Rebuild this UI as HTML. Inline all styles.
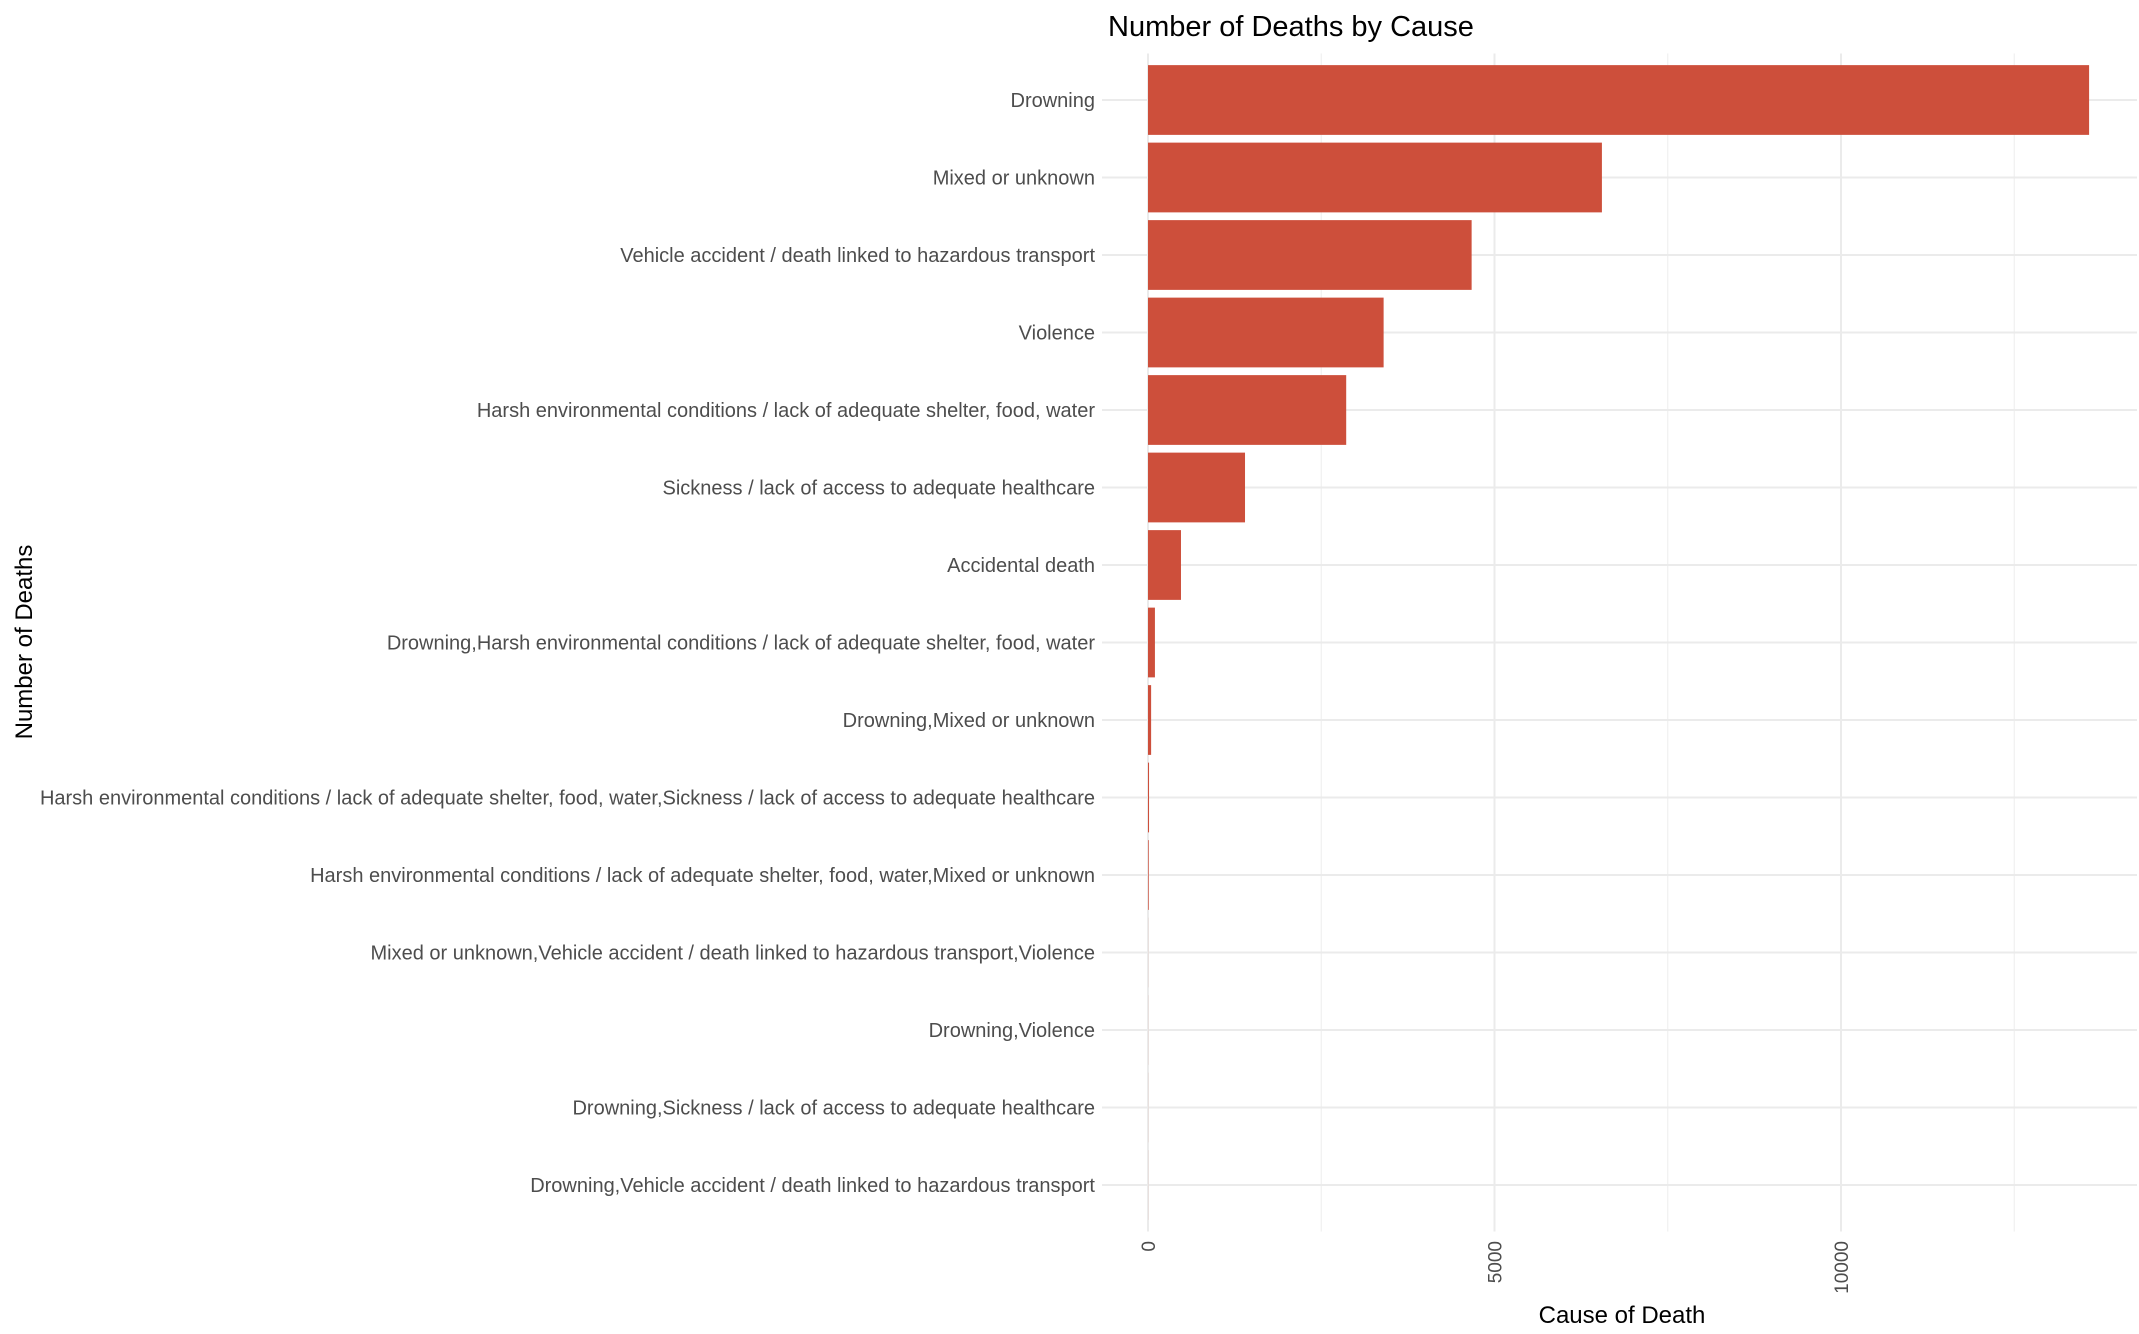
<!DOCTYPE html>
<html><head><meta charset="utf-8"><style>
html,body{margin:0;padding:0;background:#fff;}
svg{display:block;font-family:"Liberation Sans",Arial,sans-serif;}
</style></head><body>
<svg id="chart" width="2139" height="1334" viewBox="0 0 2139 1334">
<rect width="2139" height="1334" fill="#fff"/>
<g id="grid"></g>
<g id="bars"></g>
<g id="ylabels"></g>
<g id="xlabels"></g>
<text x="1108" y="36" font-size="29" fill="#000">Number of Deaths by Cause</text>
<text x="1622" y="1323" font-size="24" fill="#000" text-anchor="middle">Cause of Death</text>
<text transform="translate(32,642) rotate(-90)" font-size="24" fill="#000" text-anchor="middle">Number of Deaths</text>
</svg>
<script>
const categories = [
"Drowning",
"Mixed or unknown",
"Vehicle accident / death linked to hazardous transport",
"Violence",
"Harsh environmental conditions / lack of adequate shelter, food, water",
"Sickness / lack of access to adequate healthcare",
"Accidental death",
"Drowning,Harsh environmental conditions / lack of adequate shelter, food, water",
"Drowning,Mixed or unknown",
"Harsh environmental conditions / lack of adequate shelter, food, water,Sickness / lack of access to adequate healthcare",
"Harsh environmental conditions / lack of adequate shelter, food, water,Mixed or unknown",
"Mixed or unknown,Vehicle accident / death linked to hazardous transport,Violence",
"Drowning,Violence",
"Drowning,Sickness / lack of access to adequate healthcare",
"Drowning,Vehicle accident / death linked to hazardous transport"
];
const deaths = [13580, 6550, 4670, 3400, 2860, 1400, 476, 100, 45, 15, 10, 1, 1, 1, 1];
const xTicks = [0, 5000, 10000];
const xMinor = [2500, 7500, 12500];
const xTickLabels = ["0", "5000", "10000"];

const NS = "http://www.w3.org/2000/svg";
const X0 = 1148, PX = 0.0693;
const panelL = 1102, panelR = 2137;
const Y0 = 100, STEP = 77.5;
const panelT = Y0 - 0.6*STEP, panelB = Y0 + (categories.length - 1 + 0.6)*STEP;
function xs(v){ return X0 + v*PX; }
function ys(i){ return Y0 + i*STEP; }
function mk(tag, attrs, parent){ const e=document.createElementNS(NS,tag); for(const k in attrs) e.setAttribute(k, attrs[k]); parent.appendChild(e); return e; }

const grid = document.getElementById('grid');
xMinor.forEach(v=>{
  const l = mk('line',{x1:xs(v),x2:xs(v),y1:panelT,y2:panelB,stroke:'#f0f0f0','stroke-width':1.2},grid);
  
  
});
xTicks.forEach(v=>{
  const l = mk('line',{x1:xs(v),x2:xs(v),y1:panelT,y2:panelB,stroke:'#ebebeb','stroke-width':2},grid);
  
  
});
categories.forEach((c,i)=>{
  const l = mk('line',{x1:panelL,x2:panelR,y1:ys(i),y2:ys(i),stroke:'#ebebeb','stroke-width':2},grid);
  
  
});

const bars = document.getElementById('bars');
const bh = STEP*0.9;
deaths.forEach((v,i)=>{
  const w = Math.max(0, xs(v)-xs(0));
  const r = mk('rect',{x:xs(0),y:ys(i)-bh/2,width:w,height:bh,fill:'#cd4f3b'},bars);
  
  
});

const yl = document.getElementById('ylabels');
categories.forEach((c,i)=>{
  const t = mk('text',{x:1095,y:ys(i)+7,'font-size':20,fill:'#4d4d4d','text-anchor':'end'},yl);
  t.textContent = c;
  
  
});

const xl = document.getElementById('xlabels');
xTicks.forEach((v,i)=>{
  const t = mk('text',{transform:'translate('+(xs(v)+7)+',1241) rotate(-90)','font-size':19,fill:'#4d4d4d','text-anchor':'end'},xl);
  t.textContent = xTickLabels[i];
  
  
});
</script>
</body></html>
